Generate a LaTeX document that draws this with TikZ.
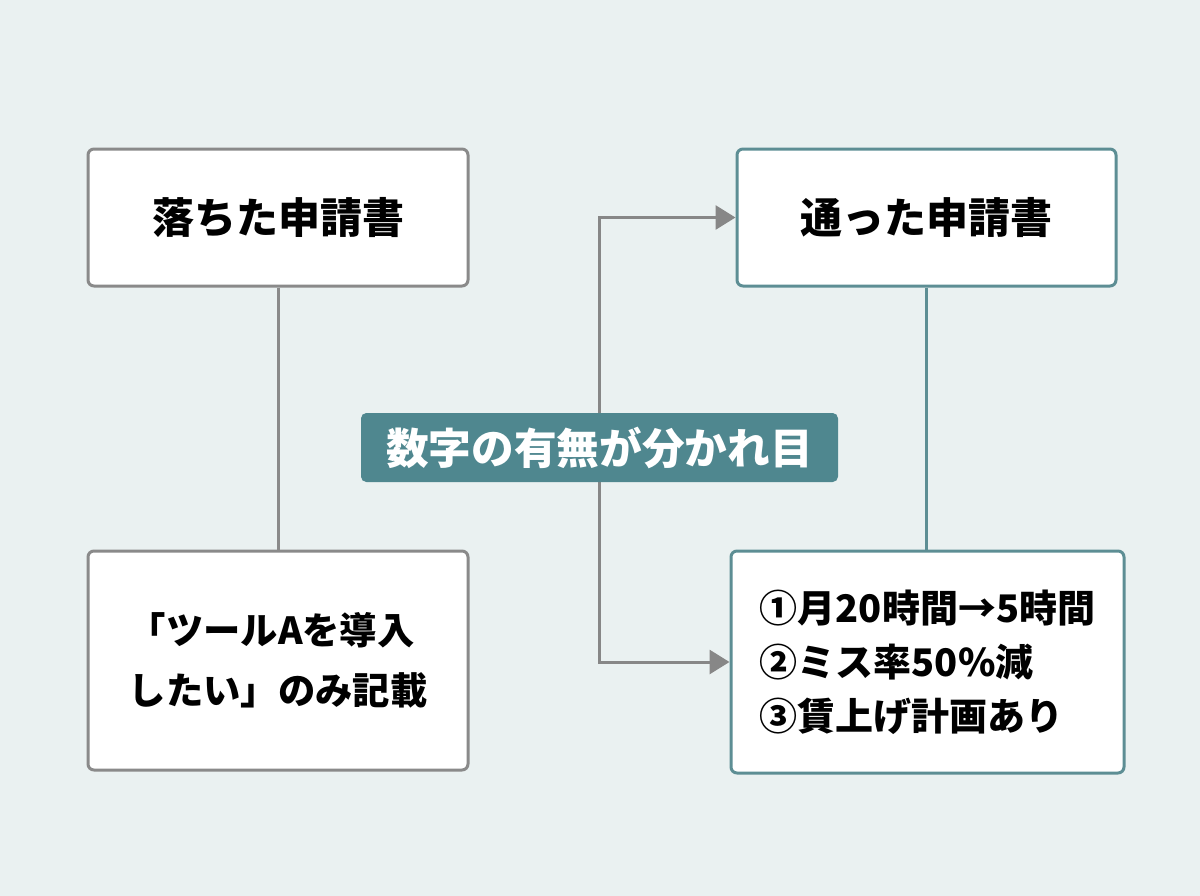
\documentclass[tikz,border=0pt]{standalone}
\usepackage{fontspec}
\setmainfont{Noto Sans CJK JP}
\usetikzlibrary{arrows.meta}
\definecolor{bg}{HTML}{EAF1F1}
\definecolor{graybd}{HTML}{8A8A8A}
\definecolor{tealbd}{HTML}{5D8E94}
\definecolor{tealfill}{HTML}{4F878F}
\definecolor{arrgray}{HTML}{878787}
\tikzset{
  box/.style={draw, fill=white, line width=2.25pt, rounded corners=4.5pt, inner sep=0pt, text=black, font=\bfseries\fontsize{31.5}{38}\selectfont},
  graybox/.style={box, draw=graybd},
  tealbox/.style={box, draw=tealbd},
  lbl/.style={fill=tealfill, rounded corners=4pt, inner sep=0pt, text=white, font=\bfseries\fontsize{32}{38}\selectfont},
  gline/.style={draw=graybd, line width=2.25pt},
  tline/.style={draw=tealbd, line width=2.25pt},
  arr/.style={draw=arrgray, line width=2.25pt, -{Triangle[length=15pt,width=18pt]}}
}
\begin{document}
\begin{tikzpicture}[x=0.75pt,y=-0.75pt]
\fill[bg] (0,0) rectangle (1200,896);
\useasboundingbox (0,0) rectangle (1200,896);
\coordinate (mid) at (599.5,447.5);
\node[graybox, minimum width=285pt, minimum height=102.75pt] (tl) at (278,217.5) {落ちた申請書};
\node[tealbox, minimum width=284.25pt, minimum height=102.75pt] (tr) at (926.5,217.5) {通った申請書};
\node[graybox, minimum width=285pt, minimum height=164.25pt, align=left, font=\bfseries\fontsize{28}{45}\selectfont] (bl) at (278,660.5) {「ツールAを導入\\したい」のみ記載};
\node[tealbox, minimum width=294.75pt, minimum height=166.5pt, align=left, font=\bfseries\fontsize{28.5}{40.5}\selectfont] (br) at (927.5,662) {①月20時間→5時間\\②ミス率50\%減\\③賃上げ計画あり};
\draw[gline] (tl.south) -- (bl.north);
\draw[tline] (tr.south) -- (tr.south |- br.north);
\draw[arr] (mid) |- (tr.west);
\draw[arr] (mid) |- (br.west);
\node[lbl, minimum width=357.75pt, minimum height=51.75pt] (lab) at (mid) {数字の有無が分かれ目};
\end{tikzpicture}
\end{document}
